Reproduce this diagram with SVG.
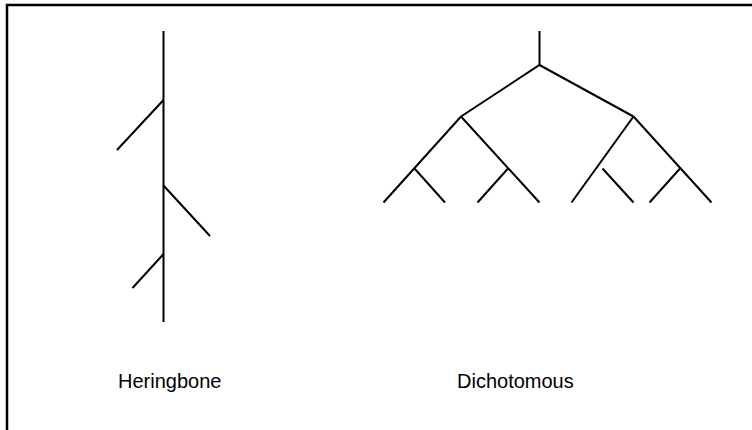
<svg xmlns="http://www.w3.org/2000/svg" width="752" height="430" viewBox="0 0 752 430">
<style>
.ln{stroke:#000;stroke-width:2;fill:none;stroke-linecap:butt}
.lbl{font-family:"Liberation Sans",Arial,sans-serif;font-size:20px;fill:#000}
</style>
<rect width="752" height="430" fill="#fff"/>
<path d="M7,430 V5 H752" stroke="#000" stroke-width="2.5" fill="none"/>
<g id="heringbone">
<path class="ln" d="M163.5,31 V322"/>
<path class="ln" d="M163.5,100 L117,150"/>
<path class="ln" d="M163.5,185.5 L210,236"/>
<path class="ln" d="M163.5,254 L132.5,288"/>
</g>
<g id="dichotomous">
<path class="ln" d="M539.5,31 V65"/>
<path class="ln" d="M461,116.5 L539.5,65 L633.5,116.5"/>
<path class="ln" d="M461,116.5 L383.5,202.5"/>
<path class="ln" d="M414.5,168.5 L445,202.5"/>
<path class="ln" d="M461,116.5 L539.5,202.5"/>
<path class="ln" d="M508,168.5 L477.5,202.5"/>
<path class="ln" d="M633.5,116.5 L571.5,202.5"/>
<path class="ln" d="M602.5,168.5 L633.5,202.5"/>
<path class="ln" d="M633.5,116.5 L711.5,202.5"/>
<path class="ln" d="M680,168.5 L649.5,202.5"/>
</g>
<text class="lbl" x="118" y="388">Heringbone</text>
<text class="lbl" x="457" y="388">Dichotomous</text>
</svg>
